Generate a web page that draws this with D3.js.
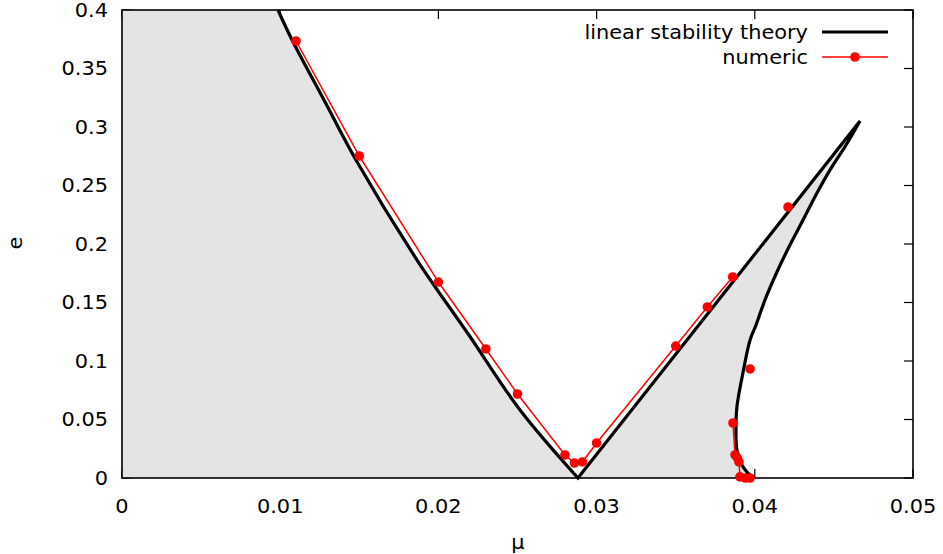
<!DOCTYPE html>
<html>
<head>
<meta charset="utf-8">
<script src="https://cdn.jsdelivr.net/npm/d3@7"></script>
<style>
  html, body { margin: 0; padding: 0; background: #fff; }
  svg { display: block; }
  text { font-family: "DejaVu Sans", sans-serif; font-size: 19px; fill: #000; }
</style>
</head>
<body>
<div id="chart"></div>
<script>
// Axis ticks
const muTicks = [0, 0.01, 0.02, 0.03, 0.04, 0.05];
const eTicks = [0, 0.05, 0.1, 0.15, 0.2, 0.25, 0.3, 0.35, 0.4];

// Linear stability boundary: left branch, right straight arm, right curved branch
const theoryLeft = [
  [0.00986, 0.4], [0.01075, 0.3744], [0.01277, 0.3231], [0.01479, 0.2718],
  [0.01865, 0.1863], [0.02193, 0.1222], [0.02516, 0.0581], [0.02882, 0.0]
];
const theoryArm = [[0.02882, 0.0], [0.04665, 0.3051]];
const theoryCurve = [
  [0.04665, 0.3051], [0.04577, 0.2846], [0.04475, 0.2632], [0.04393, 0.2436],
  [0.04305, 0.2205], [0.04222, 0.1991], [0.04140, 0.1761], [0.04064, 0.1521],
  [0.04008, 0.1308], [0.03970, 0.1179], [0.03925, 0.0897], [0.03887, 0.0607],
  [0.03881, 0.0410], [0.03887, 0.0239], [0.03919, 0.0111], [0.03945, 0.0060],
  [0.03976, 0.0017], [0.03985, 0.0]
];

// Numerically found stability limits (separate runs are separate segments)
const numericV = [
  [0.0110, 0.3735], [0.0150, 0.2752], [0.0200, 0.1675], [0.0230, 0.1103],
  [0.0250, 0.0718], [0.0280, 0.0197], [0.0286, 0.0128], [0.0291, 0.0137],
  [0.0300, 0.0299], [0.0350, 0.1128], [0.0370, 0.1462], [0.0386, 0.1718]
];
const numericUpper = [[0.0421, 0.2316]];
const numericMid = [[0.0397, 0.0932]];
const numericLow = [
  [0.03862, 0.0470], [0.03875, 0.0197], [0.03890, 0.0170], [0.03900, 0.0137],
  [0.03906, 0.0010], [0.03940, 0.0], [0.03970, 0.0]
];

const W = 943, H = 554;
const margin = { left: 122, top: 10, right: 30, bottom: 76 };
const iw = W - margin.left - margin.right;
const ih = H - margin.top - margin.bottom;

const x = d3.scaleLinear().domain([0, 0.05]).range([0, iw]);
const y = d3.scaleLinear().domain([0, 0.4]).range([ih, 0]);

const svg = d3.select("#chart").append("svg").attr("width", W).attr("height", H);
const g = svg.append("g").attr("transform", `translate(${margin.left},${margin.top})`);

// Inward ticks on all four sides
const tickLen = 9;
const ticks = g.append("g").attr("stroke", "#000").attr("stroke-width", 1.2);
muTicks.forEach(t => {
  ticks.append("line").attr("x1", x(t)).attr("x2", x(t)).attr("y1", ih).attr("y2", ih - tickLen);
  ticks.append("line").attr("x1", x(t)).attr("x2", x(t)).attr("y1", 0).attr("y2", tickLen);
});
eTicks.forEach(t => {
  ticks.append("line").attr("x1", 0).attr("x2", tickLen).attr("y1", y(t)).attr("y2", y(t));
  ticks.append("line").attr("x1", iw).attr("x2", iw - tickLen).attr("y1", y(t)).attr("y2", y(t));
});

// Shaded stable region
const region = [[0, 0.4]].concat(theoryLeft, theoryArm.slice(1), theoryCurve.slice(1), [[0, 0]]);
const area = d3.line().x(d => x(d[0])).y(d => y(d[1]));
g.append("path").attr("d", area(region) + "Z").attr("fill", "#e4e4e4").attr("stroke", "none");

// Frame
g.append("rect").attr("x", 0).attr("y", 0).attr("width", iw).attr("height", ih)
  .attr("fill", "none").attr("stroke", "#000").attr("stroke-width", 1.6);

// Tick labels
const fmt = d => d === 0 ? "0" : String(+d.toFixed(3));
g.append("g").selectAll("text").data(muTicks).join("text")
  .attr("x", d => x(d)).attr("y", ih + 35).attr("text-anchor", "middle").text(fmt);
g.append("g").selectAll("text").data(eTicks).join("text")
  .attr("x", -14).attr("y", d => y(d)).attr("dy", "0.35em").attr("text-anchor", "end").text(fmt);

// Axis titles
svg.append("text").attr("x", 518).attr("y", 549).attr("text-anchor", "middle").text("μ");
svg.append("text").attr("transform", "translate(22,243) rotate(-90)").attr("text-anchor", "middle").text("e");

// Theory curve: smooth branches joined with sharp corners
const smooth = d3.line().x(d => x(d[0])).y(d => y(d[1])).curve(d3.curveCatmullRom.alpha(0.5));
const straight = d3.line().x(d => x(d[0])).y(d => y(d[1]));
const theoryPath = smooth(theoryLeft) + straight(theoryArm).replace(/^M/, "L") + smooth(theoryCurve).replace(/^M/, "L");
g.append("path").attr("d", theoryPath).attr("fill", "none")
  .attr("stroke", "#000").attr("stroke-width", 3.2).attr("stroke-linejoin", "miter").attr("stroke-miterlimit", 10);

// Numeric results
[numericV, numericUpper, numericMid, numericLow].forEach(seg => {
  g.append("path").attr("d", straight(seg)).attr("fill", "none")
    .attr("stroke", "#ff0000").attr("stroke-width", 1.5);
  g.append("g").selectAll("circle").data(seg).join("circle")
    .attr("cx", d => x(d[0])).attr("cy", d => y(d[1])).attr("r", 4.8).attr("fill", "#ff0000");
});

// Legend
const lg = svg.append("g");
lg.append("text").attr("x", 808).attr("y", 32).attr("dy", "0.35em").attr("text-anchor", "end").text("linear stability theory");
lg.append("line").attr("x1", 822).attr("x2", 888).attr("y1", 32).attr("y2", 32).attr("stroke", "#000").attr("stroke-width", 3.2);
lg.append("text").attr("x", 808).attr("y", 57).attr("dy", "0.35em").attr("text-anchor", "end").text("numeric");
lg.append("line").attr("x1", 822).attr("x2", 888).attr("y1", 57).attr("y2", 57).attr("stroke", "#ff0000").attr("stroke-width", 1.5);
lg.append("circle").attr("cx", 855).attr("cy", 57).attr("r", 4.8).attr("fill", "#ff0000");

// Slightly wider glyph set for all labels
svg.selectAll("text").each(function () {
  const len = this.getComputedTextLength();
  if (len > 0) d3.select(this).attr("textLength", len * 1.1).attr("lengthAdjust", "spacingAndGlyphs");
});
</script>
</body>
</html>
